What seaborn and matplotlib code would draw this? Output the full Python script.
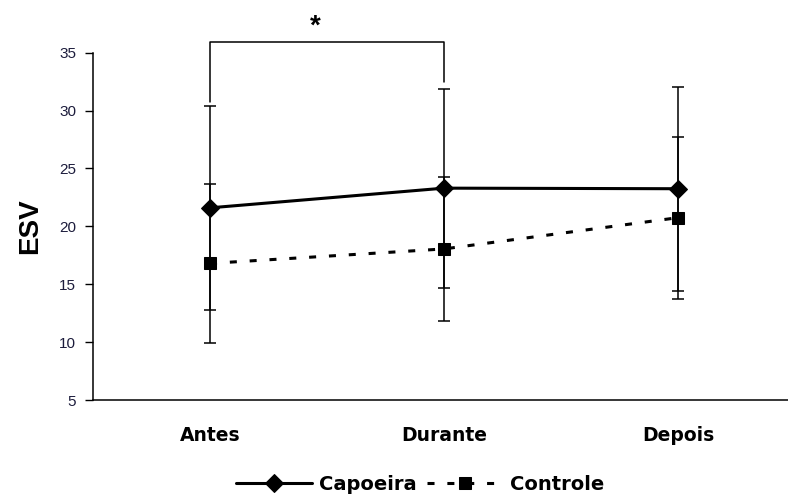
"""
ESV: Capoeira vs Controle (Antes / Durante / Depois)
"""
import matplotlib
matplotlib.use('Agg')
import matplotlib.pyplot as plt
import seaborn as sns
import pandas as pd
import numpy as np

# 데이터
periods = ['Antes', 'Durante', 'Depois']
capoeira_mean = [21.6, 23.3, 23.25]
capoeira_sd = [8.8, 8.6, 8.8]
controle_mean = [16.8, 18.05, 20.75]
controle_sd = [6.9, 6.2, 7.0]
y_ticks = [5, 10, 15, 20, 25, 30, 35]

sns.set_style('white')
plt.rcParams['font.family'] = ['Liberation Sans', 'DejaVu Sans']
plt.rcParams['text.color'] = 'black'

pos = np.arange(len(periods))
df = pd.DataFrame({
    'pos': np.concatenate([pos, pos]),
    'ESV': capoeira_mean + controle_mean,
    'grupo': ['Capoeira'] * 3 + ['Controle'] * 3,
})

fig = plt.figure(figsize=(7.88, 4.95), dpi=100)
ax = fig.add_axes([93 / 788, 95 / 495, 702 / 788, 347.3 / 495])

# 오차 막대
for mean, sd in [(capoeira_mean, capoeira_sd), (controle_mean, controle_sd)]:
    ax.errorbar(pos, mean, yerr=sd, fmt='none', ecolor='black',
                elinewidth=1.1, capsize=4.5, capthick=1.1, zorder=2)

sns.lineplot(data=df, x='pos', y='ESV', hue='grupo', style='grupo',
             palette={'Capoeira': 'black', 'Controle': 'black'},
             markers={'Capoeira': 'D', 'Controle': 's'},
             dashes={'Capoeira': '', 'Controle': (2.3, 4.2)},
             markersize=9, linewidth=2.2, markeredgecolor='black',
             ax=ax, zorder=3)

ax.set_xlim(-0.5, 2.5)
ax.set_ylim(5, 35)
ax.set_yticks(y_ticks)
ax.set_yticklabels([str(v) for v in y_ticks], fontsize=11, color='#1c1c3c')
ax.set_xticks(pos)
ax.set_xticklabels(periods, fontsize=13.5, fontweight='bold',
                   family='DejaVu Sans', color='black')
ax.tick_params(axis='x', which='major', length=0, pad=19)
ax.set_xticks([0.5, 1.5], minor=True)
ax.tick_params(axis='x', which='minor', length=6, width=1, direction='out',
               color='black')
ax.tick_params(axis='y', length=6, width=1, direction='out', left=True,
               pad=6, color='black')
ax.set_xlabel('')
ax.set_ylabel('ESV', fontsize=20, fontweight='bold', labelpad=12,
              color='black')

sns.despine(ax=ax)
for s in ['left', 'bottom']:
    ax.spines[s].set_color('black')
    ax.spines[s].set_linewidth(1.1)

# 유의성 표시
ax.plot([0, 0, 1, 1], [30.75, 35.9, 35.9, 32.5], color='black', lw=1.1,
        clip_on=False)
ax.text(0.45, 36.1, '*', ha='center', va='bottom', fontsize=20,
        fontweight='bold', clip_on=False)

leg = ax.legend(loc='center', bbox_to_anchor=(0.466, -0.242), ncol=2,
                frameon=False, handlelength=3.9, columnspacing=0.5,
                handletextpad=0.4, prop={'family': 'DejaVu Sans',
                                         'weight': 'bold', 'size': 14})
for t in leg.get_texts():
    t.set_color('black')

fig.savefig('out.png', dpi=100)
